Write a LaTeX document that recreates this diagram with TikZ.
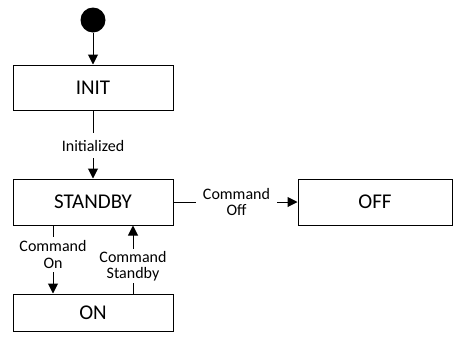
\documentclass[tikz,border=0pt]{standalone}
\usepackage{fontspec}
\setmainfont{Carlito}
\usetikzlibrary{arrows.meta}
\begin{document}
\begin{tikzpicture}[x=1pt,y=-1pt,
  statebox/.style={draw,line width=1pt,inner sep=0pt,font=\fontsize{21}{24}\selectfont},
  lbl/.style={align=center,inner sep=0pt,font=\fontsize{16}{16.5}\selectfont},
  conn/.style={line width=1pt},
  arr/.style={line width=1pt,-{Triangle[length=10pt,width=10pt]}}]
\useasboundingbox (0,0) rectangle (453,341);
\node[circle,fill=black,minimum size=25pt,inner sep=0pt] (start) at (93,20) {};
\node[statebox,minimum width=160pt,minimum height=45pt] (init) at (93,87.5) {INIT};
\node[statebox,minimum width=160pt,minimum height=46pt] (standby) at (93,202) {STANDBY};
\node[statebox,minimum width=154pt,minimum height=46pt] (off) at (375,202) {OFF};
\node[statebox,minimum width=160pt,minimum height=37pt] (on) at (93,312.5) {ON};
\draw[arr] (start) -- (init);
% Initialized
\node[lbl,minimum height=25pt] (l1) at (93,145.5) {Initialized};
\draw[conn] (init) -- (l1);
\draw[arr] (l1) -- (standby);
% Command Off
\node[lbl,minimum width=81pt] (l2) at (236.5,202) {Command\\Off};
\draw[conn] (standby.east) -- (l2.west |- standby.east);
\draw[arr] (l2.east |- off.west) -- (off.west);
% Command On
\coordinate (onx) at (53,225);
\node[lbl,minimum height=35pt] (l3) at (53,254.5) {Command\\On};
\draw[conn] (onx) -- (l3.north);
\draw[arr] (l3.south) -- (on.north -| l3.south);
% Command Standby
\node[lbl,minimum height=34pt] (l4) at (133,266) {Command\\Standby};
\draw[conn] (on.north -| l4.south) -- (l4.south);
\draw[arr] (l4.north) -- (standby.south -| l4.north);
\end{tikzpicture}
\end{document}
